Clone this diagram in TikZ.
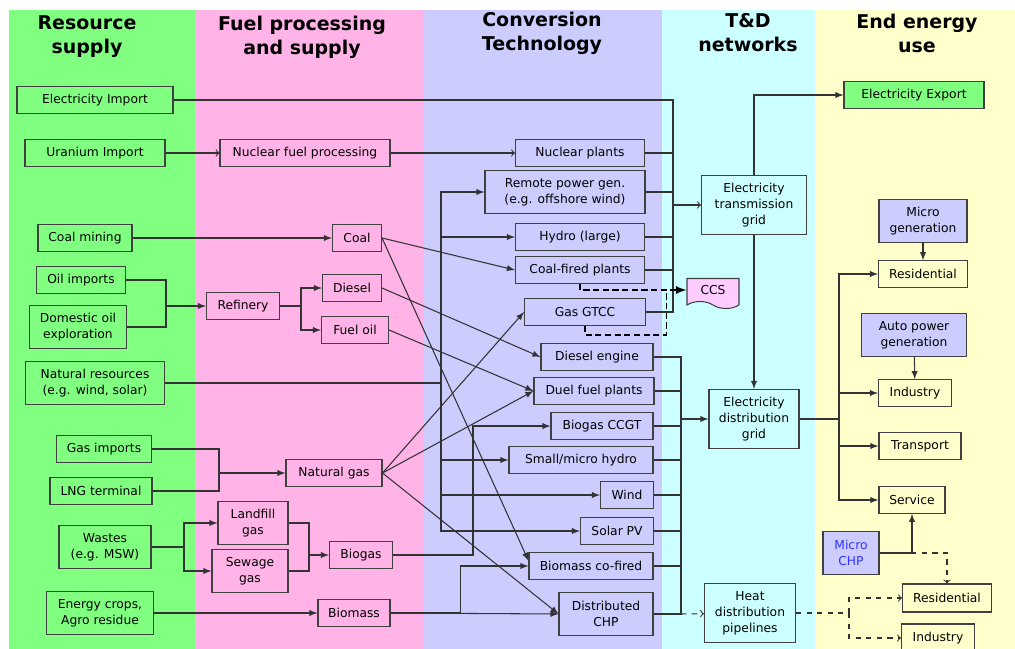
\documentclass[tikz,border=0pt]{standalone}
\usepackage{fontspec}
\setmainfont{DejaVu Sans}
\usetikzlibrary{shapes, positioning, calc}
\definecolor{resgreen}{HTML}{80FF80}
\definecolor{fuelpink}{HTML}{FFB3E6}
\definecolor{convblue}{HTML}{CCCCFF}
\definecolor{netcyan}{HTML}{CCFFFF}
\definecolor{useyellow}{HTML}{FFFFCC}
\definecolor{ccspink}{HTML}{FFCCFF}
\definecolor{chpblue}{HTML}{3333FF}

\begin{document}
\begin{tikzpicture}[x=0.02cm, y=-0.02cm,
    unit/.style={rectangle, 
      draw=black!75, 
      line width=0.6pt, 
      align=center, 
      inner sep=1pt, 
      minimum height=0.53cm, 
      font=\fontsize{7}{9}\selectfont},
    tall/.style={minimum height=0.86cm},
    grid/.style={minimum height=1.18cm},
    title/.style={align=center, font=\fontsize{10.8}{13.6}\selectfont\bfseries},
    flow/.style={draw=black!80, line width=0.6pt},
    ccsflow/.style={draw=black, line width=1.1pt, dash pattern=on 3.5pt off 2pt}]

  \useasboundingbox (0,0) rectangle (1015,649);

% COLUMNS

  \fill[resgreen] (9,10) rectangle (195,649);
  \fill[fuelpink] (195,10) rectangle (424,649);
  \fill[convblue] (424,10) rectangle (662,649);
  \fill[netcyan] (662,10) rectangle (815,649);
  \fill[useyellow] (815,10) rectangle (1015,649);

  \node[title] (restitle) at (87,37) {Resource\\supply};
  \node[title] (fueltitle) at (302,37) {Fuel processing\\and supply};
  \node[title] (convtitle) at (542,33) {Conversion\\Technology};
  \node[title] (nettitle) at (748,33) {T\&D\\networks};
  \node[title] (usetitle) at (917,33) {End energy\\use};

% RESOURCE SUPPLY

  \node[unit, minimum width=3.12cm] (elecimport) at (95,100) {Electricity Import};
  \node[unit, minimum width=2.8cm] (uranium) at (95,153) {Uranium Import};
  \node[unit, minimum width=1.88cm] (coalmining) at (85,238) {Coal mining};
  \node[unit, minimum width=1.78cm] (oilimports) at (81,280) {Oil imports};
  \node[unit, tall, minimum width=1.94cm] (domesticoil) at (78,327) 
    {Domestic oil\\exploration};
  \node[unit, tall, minimum width=2.78cm] (natres) at (95,383) 
    {Natural resources\\(e.g. wind, solar)};
  \node[unit, minimum width=1.9cm] (gasimports) at (104,449) {Gas imports};
  \node[unit, minimum width=2.04cm] (lngterminal) at (101,491) {LNG terminal};
  \node[unit, tall, minimum width=1.84cm] (wastes) at (105,547) {Wastes\\(e.g. MSW)};
  \node[unit, tall, minimum width=2.14cm] (energycrops) at (100,613) 
    {Energy crops,\\Agro residue};

% FUEL PROCESSING AND SUPPLY

  \node[unit, minimum width=3.4cm] (nuclearfuel) at (305,153) {Nuclear fuel processing};
  \node[unit, minimum width=0.98cm] (coal) at (357,238) {Coal};
  \node[unit, minimum width=1.46cm] (refinery) at (243,306) {Refinery};
  \node[unit, minimum width=1.18cm] (diesel) at (352,288) {Diesel};
  \node[unit, minimum width=1.34cm] (fueloil) at (355,330) {Fuel oil};
  \node[unit, minimum width=1.92cm] (naturalgas) at (334,473) {Natural gas};
  \node[unit, tall, minimum width=1.4cm] (landfill) at (253,523) {Landfill\\gas};
  \node[unit, tall, minimum width=1.52cm] (sewage) at (250,571) {Sewage\\gas};
  \node[unit, minimum width=1.26cm] (biogas) at (361,555) {Biogas};
  \node[unit, minimum width=1.44cm] (biomass) at (354,613) {Biomass};

% CONVERSION TECHNOLOGY

  \node[unit, minimum width=2.58cm] (nuclearplants) at (580,153) {Nuclear plants};
  \node[unit, tall, minimum width=3.2cm] (remotegen) at (565,192) 
    {Remote power gen.\\(e.g. offshore wind)};
  \node[unit, minimum width=2.58cm] (hydro) at (580,237) {Hydro (large)};
  \node[unit, minimum width=2.58cm] (coalfired) at (580,270) {Coal-fired plants};
  \node[unit, minimum width=2.42cm] (gtcc) at (585,312) {Gas GTCC};
  \node[unit, minimum width=2.24cm] (dieselengine) at (597,357) {Diesel engine};
  \node[unit, minimum width=2.4cm] (dualfuel) at (594,391) {Duel fuel plants};
  \node[unit, minimum width=2.04cm] (biogasccgt) at (602,426) {Biogas CCGT};
  \node[unit, minimum width=2.88cm] (smallhydro) at (581,460) {Small/micro hydro};
  \node[unit, minimum width=1.06cm] (wind) at (627,495) {Wind};
  \node[unit, minimum width=1.46cm] (solarpv) at (617,531) {Solar PV};
  \node[unit, minimum width=2.48cm] (cofired) at (591,566) {Biomass co-fired};
  \node[unit, tall, minimum width=1.88cm] (distchp) at (606,614) {Distributed\\CHP};

% T&D NETWORKS

  \node[unit, grid, minimum width=2.1cm] (transgrid) at (754,205) 
    {Electricity\\transmission\\grid};
  \node[tape, tape bend top=none, tape bend bottom=out and in, tape bend height=4pt, 
    draw=black!75, line width=0.6pt, fill=ccspink, minimum width=1.04cm, 
    minimum height=0.6cm, inner sep=1pt, font=\fontsize{7}{9}\selectfont] 
    (ccs) at (713,290) {CCS};
  \node[unit, grid, minimum width=1.8cm] (distgrid) at (754,419) 
    {Electricity\\distribution\\grid};
  \node[unit, grid, minimum width=1.82cm] (heatpipes) at (750,613) 
    {Heat\\distribution\\pipelines};

% END ENERGY USE

  \node[unit, fill=resgreen, minimum width=2.8cm] (elecexport) at (914,95) 
    {Electricity Export};
  \node[unit, tall, fill=convblue, minimum width=1.76cm] (microgen) at (923,221) 
    {Micro\\generation};
  \node[unit, minimum width=1.78cm] (residential) at (923,274) {Residential};
  \node[unit, tall, fill=convblue, minimum width=2.1cm] (autopower) at (914,335) 
    {Auto power\\generation};
  \node[unit, minimum width=1.46cm] (industry) at (915,393) {Industry};
  \node[unit, minimum width=1.64cm] (transport) at (920,446) {Transport};
  \node[unit, minimum width=1.32cm] (service) at (912,500) {Service};
  \node[unit, tall, fill=convblue, text=chpblue, minimum width=1.12cm] (microchp) 
    at (851,553) {Micro\\CHP};
  \node[unit, minimum width=1.78cm, minimum height=0.56cm] (heatres) at (947,598) 
    {Residential};
  \node[unit, minimum width=1.46cm, minimum height=0.56cm] (heatind) at (938,638) 
    {Industry};

% BUS POINTS

  \coordinate (oilbus) at (166,306);
  \coordinate (refbus) at (301,306);
  \coordinate (natbus) at (441,383);
  \coordinate (gasbus) at (219,473);
  \coordinate (wastebus) at (184,547);
  \coordinate (biobus) at (309,555);
  \coordinate (transbus) at (673,205);
  \coordinate (distbus) at (681,419);
  \coordinate (usebus) at (839,419);
  \coordinate (heatbus) at (849,613);

% FLOWS

  \draw[flow, ->] (uranium) -- (nuclearfuel);
  \draw[flow, ->] (nuclearfuel) -- (nuclearplants);
  \draw[flow, -latex] (coalmining) -- (coal);

  \draw[flow] (oilimports.east) -| (oilbus);
  \draw[flow] (domesticoil.east) -| (oilbus);
  \draw[flow, -latex] (oilbus) -- (refinery);
  \draw[flow] (refinery.east) -- (refbus);
  \draw[flow, -latex] (refbus) |- (diesel.west);
  \draw[flow, -latex] (refbus) |- (fueloil.west);

  \draw[flow] (gasimports.east) -| (gasbus);
  \draw[flow] (lngterminal.east) -| (gasbus);
  \draw[flow, -latex] (gasbus) -- (naturalgas);
  \draw[flow] (wastes.east) -- (wastebus);
  \draw[flow, -latex] (wastebus) |- (landfill.west);
  \draw[flow, -latex] (wastebus) |- (sewage.west);
  \draw[flow] (landfill.east) -| (biobus);
  \draw[flow] (sewage.east) -| (biobus);
  \draw[flow, -latex] (biobus) -- (biogas);
  \draw[flow, -latex] (energycrops) -- (biomass);

  % fuels to plants
  \draw[flow, -latex] (coal.east) -- (coalfired.west);
  \draw[flow, -latex] (coal.east) -- ([yshift=3pt]cofired.west);
  \draw[flow, -latex] (diesel.east) -- (dieselengine.west);
  \draw[flow, -latex] (fueloil.east) -- (dualfuel.west);
  \draw[flow, -latex] (naturalgas.east) -- (gtcc.west);
  \draw[flow, -latex] (naturalgas.east) -- (dualfuel.west);
  \draw[flow, -latex] (naturalgas.east) -- (distchp.west);
  \draw[flow, -latex] (biogas.east) -- ++(80,0) |- (biogasccgt.west);
  \draw[flow, -latex] (biomass.east) -- ++(70,0) |- (cofired.west);
  \draw[flow, -latex] (biomass.east) -- (distchp.west);

  \draw[flow] (natres.east) -- (natbus);
  \draw[flow, -latex] (natbus) |- (remotegen.west);
  \draw[flow, -latex] (natbus) |- (hydro.west);
  \draw[flow, -latex] (natbus) |- (smallhydro.west);
  \draw[flow, -latex] (natbus) |- (wind.west);
  \draw[flow, -latex] (natbus) |- (solarpv.west);

  % plants to networks
  \draw[flow] (elecimport.east) -| (transbus);
  \draw[flow] (gtcc.east) -| (transbus);
  \draw[flow] (nuclearplants.east) -- (nuclearplants.east -| transbus);
  \draw[flow] (remotegen.east) -- (remotegen.east -| transbus);
  \draw[flow] (hydro.east) -- (hydro.east -| transbus);
  \draw[flow] (coalfired.east) -- (coalfired.east -| transbus);
  \draw[flow, ->] (transbus) -- (transgrid);

  \draw[flow] (dieselengine.east) -| (distbus);
  \draw[flow] (distchp.east) -| (distbus);
  \draw[flow] (dualfuel.east) -- (dualfuel.east -| distbus);
  \draw[flow] (biogasccgt.east) -- (biogasccgt.east -| distbus);
  \draw[flow] (smallhydro.east) -- (smallhydro.east -| distbus);
  \draw[flow] (wind.east) -- (wind.east -| distbus);
  \draw[flow] (solarpv.east) -- (solarpv.east -| distbus);
  \draw[flow] (cofired.east) -- (cofired.east -| distbus);
  \draw[flow, -latex] (distbus) -- (distgrid);
  \draw[flow, dashed, ->] (distchp.east -| distbus) -- (heatpipes);

  \draw[ccsflow, -latex] (coalfired.south) |- (ccs.west);
  \draw[ccsflow] (gtcc.south) -- ++(0,9) -| ($(ccs.west)+(-20,0)$);

  % networks to end use
  \draw[flow, -latex] (transgrid.north) |- (elecexport.west);
  \draw[flow, -latex] (transgrid.south) -- (distgrid.north);
  \draw[flow] (distgrid.east) -- (usebus);
  \draw[flow, -latex] (usebus) |- (residential.west);
  \draw[flow, -latex] (usebus) |- (industry.west);
  \draw[flow, -latex] (usebus) |- (transport.west);
  \draw[flow, -latex] (usebus) |- (service.west);
  \draw[flow, -latex] (microgen) -- (residential);
  \draw[flow, -latex] (autopower) -- (industry);
  \draw[flow, dashed, ->] (microchp.east) -| (heatres.north);
  \draw[flow, -latex] (microchp.east) -| (service.south);
  \draw[flow, dashed] (heatpipes.east) -- (heatbus);
  \draw[flow, dashed, ->] (heatbus) |- (heatres.west);
  \draw[flow, dashed, ->] (heatbus) |- (heatind.west);

\end{tikzpicture}
\end{document}
